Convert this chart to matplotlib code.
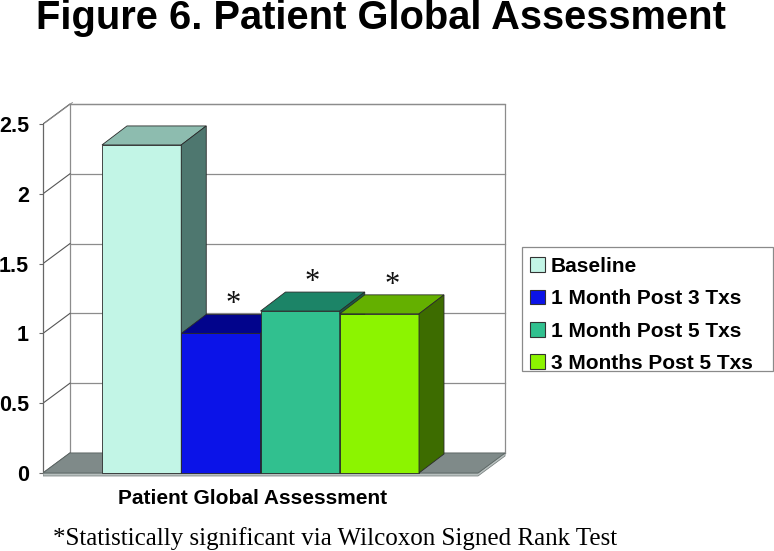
import matplotlib
matplotlib.use('Agg')
import matplotlib.pyplot as plt
from matplotlib.patches import Polygon, Patch, Rectangle
from matplotlib.font_manager import FontProperties

# ---- data ----
categories = ['Baseline', '1 Month Post 3 Txs', '1 Month Post 5 Txs', '3 Months Post 5 Txs']
values = [2.35, 1.00, 1.16, 1.14]
significant = [False, True, True, True]
yticks = [0, 0.5, 1, 1.5, 2, 2.5]
ytick_labels = ['0', '0.5', '1', '1.5', '2', '2.5']
group_label = 'Patient Global Assessment'
title = 'Figure 6. Patient Global Assessment'
footnote = '*Statistically significant via Wilcoxon Signed Rank Test'

# ---- style ----
front_colors = ['#c2f5e6', '#0b13e8', '#31c08f', '#8cf400']
top_colors = ['#8dbcaf', '#02048c', '#1c8467', '#64b000']
side_colors = ['#4e776f', '#020466', '#175c48', '#3d6c00']
grid_color = '#8c8c8c'
floor_color = '#7f8a89'
floor_edge = '#b8c0bf'
SANS = ['Liberation Sans', 'DejaVu Sans']
SERIF = ['Liberation Serif', 'DejaVu Serif']

W, H, DPI = 774, 551, 100
fig = plt.figure(figsize=(W / DPI, H / DPI), dpi=DPI)

# pixel geometry of the plotting frame
px_x0, px_unit_x = 102, 79.25
px_y0, px_unit_y = 473, 139.6
ax_left_px, ax_right_px = 43, 512
ax_top_px, ax_bot_px = 98, 478
ax = fig.add_axes([ax_left_px / W, 1 - ax_bot_px / H,
                   (ax_right_px - ax_left_px) / W, (ax_bot_px - ax_top_px) / H])
ax.set_xlim((ax_left_px - px_x0) / px_unit_x, (ax_right_px - px_x0) / px_unit_x)
ax.set_ylim((px_y0 - ax_bot_px) / px_unit_y, (px_y0 - ax_top_px) / px_unit_y)
ax.patch.set_visible(False)

n = len(values)
gap = 0.745
xl, xr = -gap, n + gap
ymax = yticks[-1]
DX, DY = 27 / px_unit_x, 20 / px_unit_y       # wall depth
DXb, DYb = 25 / px_unit_x, 19 / px_unit_y     # bar depth

# back wall
ax.add_patch(Polygon([(xl + DX, DY), (xr + DX, DY), (xr + DX, ymax + DY), (xl + DX, ymax + DY)],
                     closed=True, facecolor='white', edgecolor=grid_color, lw=0.9, zorder=1))
# gridlines on back wall and side wall
for v in yticks:
    ax.plot([xl + DX, xr + DX], [v + DY, v + DY], color=grid_color, lw=0.9, zorder=2)
    ax.plot([xl, xl + DX], [v, v + DY], color='#555555', lw=0.8, zorder=2)
ax.plot([xl + 0.03, xl + DX + 0.03], [ymax + 0.01, ymax + DY + 0.01], color=grid_color, lw=0.7, zorder=2)

# floor with thickness
t = 3 / px_unit_y
ax.add_patch(Polygon([(xl, 0), (xr, 0), (xr + DX, DY), (xr + DX, DY - t), (xr, -t), (xl, -t)],
                     closed=True, facecolor=floor_edge, edgecolor='#6f7776', lw=0.5, zorder=3))
ax.add_patch(Polygon([(xl, 0), (xr, 0), (xr + DX, DY), (xl + DX, DY)],
                     closed=True, facecolor=floor_color, edgecolor='#5b6664', lw=0.6, zorder=4))

# bars (painter's order left to right)
z = 5
for i, v in enumerate(values):
    x0, x1 = i, i + 1
    ax.add_patch(Polygon([(x0, 0), (x1, 0), (x1, v), (x0, v)], closed=True,
                         facecolor=front_colors[i], edgecolor='#2a2a2a', lw=0.6, zorder=z))
    ax.add_patch(Polygon([(x0, v), (x1, v), (x1 + DXb, v + DYb), (x0 + DXb, v + DYb)], closed=True,
                         facecolor=top_colors[i], edgecolor='#2a2a2a', lw=0.6, zorder=z + 1))
    ax.add_patch(Polygon([(x1, 0), (x1 + DXb, DYb), (x1 + DXb, v + DYb), (x1, v)], closed=True,
                         facecolor=side_colors[i], edgecolor='#2a2a2a', lw=0.6, zorder=z + 2))
    z += 3
for i, v in enumerate(values):
    if significant[i]:
        ax.text(i + 0.5 + DXb / 2, v + DYb + 2 / px_unit_y, '*', ha='center', va='baseline',
                fontsize=22, family=SERIF, color='#111111', zorder=50)

# axes decoration
for s in ['top', 'right', 'bottom']:
    ax.spines[s].set_visible(False)
ax.spines['left'].set_bounds(0, ymax)
ax.spines['left'].set_color('#666666')
ax.spines['left'].set_linewidth(0.9)
ax.set_yticks(yticks, ytick_labels)
ax.tick_params(axis='y', length=3, color='#666666', pad=7)
for lab in ax.get_yticklabels():
    lab.set_fontproperties(FontProperties(family=SANS, weight='bold', size=15.5))
ax.set_xticks([(253 - px_x0) / px_unit_x], [group_label])
ax.tick_params(axis='x', length=0, pad=8)
for lab in ax.get_xticklabels():
    lab.set_fontproperties(FontProperties(family=SANS, weight='bold', size=15))

# legend
handles = [Patch(facecolor=c, edgecolor='#333333', lw=0.8) for c in front_colors]
leg = fig.legend(handles, categories, loc='upper left', bbox_to_anchor=(530 / W, 1 - 257 / H),
                 borderaxespad=0, frameon=False,
                 prop=FontProperties(family=SANS, weight='bold', size=15),
                 handlelength=0.7, handleheight=0.7, handletextpad=0.3,
                 borderpad=0.0, labelspacing=0.64)

# titles
tt = fig.text(381 / W, 1 - 29 / H, title, ha='center', va='baseline', fontsize=26,
              weight='bold', family=SANS)
fn = fig.text(53 / W, 1 - 545 / H, footnote, ha='left', va='baseline', fontsize=18.5,
              family=SERIF)

fig.canvas.draw()
r = fig.canvas.get_renderer()
for txt, target in [(tt, 689), (fn, 567)]:
    w = txt.get_window_extent(r).width
    txt.set_fontsize(txt.get_fontsize() * target / w)
fig.canvas.draw()
bb = leg.get_window_extent(r)
x0, y0 = bb.x0 - 8, bb.y0 + 2
fig.add_artist(Rectangle((x0 / W, y0 / H), (bb.x1 + 20 - x0) / W, (bb.y1 + 10 - y0) / H,
                         transform=fig.transFigure, facecolor='none', edgecolor='#8a8a8a',
                         lw=0.9))

fig.savefig('out.png', dpi=DPI)
